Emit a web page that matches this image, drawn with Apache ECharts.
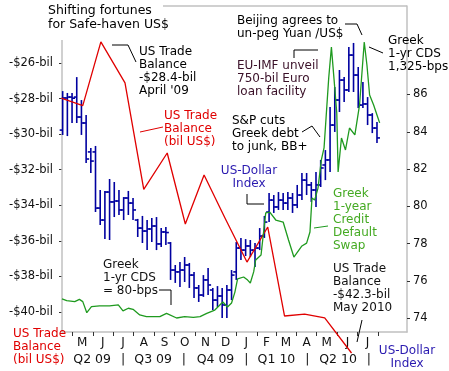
<!DOCTYPE html>
<html><head><meta charset="utf-8">
<script src="https://cdn.jsdelivr.net/npm/echarts@6/dist/echarts.min.js"></script>
<style>html,body{margin:0;padding:0;background:#fff}#c{width:449px;height:371px}</style>
</head><body><div id="c"></div>
<script>
// ---- data ----
const dxyDates = ['2009-04-17','2009-04-24','2009-05-01','2009-05-08','2009-05-15','2009-05-22','2009-05-29','2009-06-05','2009-06-12','2009-06-19','2009-06-26','2009-07-03','2009-07-10','2009-07-17','2009-07-24','2009-07-31','2009-08-07','2009-08-14','2009-08-21','2009-08-28','2009-09-04','2009-09-11','2009-09-18','2009-09-25','2009-10-02','2009-10-09','2009-10-16','2009-10-23','2009-10-30','2009-11-06','2009-11-13','2009-11-20','2009-11-27','2009-12-04','2009-12-11','2009-12-18','2009-12-25','2010-01-01','2010-01-08','2010-01-15','2010-01-22','2010-01-29','2010-02-05','2010-02-12','2010-02-19','2010-02-26','2010-03-05','2010-03-12','2010-03-19','2010-03-26','2010-04-02','2010-04-09','2010-04-16','2010-04-23','2010-04-30','2010-05-07','2010-05-14','2010-05-21','2010-05-28','2010-06-04','2010-06-11','2010-06-18','2010-06-25','2010-07-02','2010-07-09','2010-07-16','2010-07-23','2010-07-30'];
const dxyOpen = [84.09,85.81,85.86,85.86,84.79,84.47,82.92,82.92,79.91,79.27,80.77,80.24,80.29,79.81,80.45,80.18,79.27,78.84,78.68,78.79,78.95,77.99,78.63,78.04,76.59,76.49,76.59,76.86,76.32,75.63,75.25,76.06,75.52,74.98,75.20,74.72,75.52,76.49,77.77,77.66,77.88,77.66,77.77,78.41,79.70,80.34,79.97,80.34,80.18,80.45,80.08,80.61,81.41,81.15,80.88,81.15,82.22,82.49,84.36,85.70,86.77,86.24,88.11,87.04,85.43,85.49,84.90,84.20];
const dxyHigh = [86.18,86.08,86.08,86.93,85.70,84.90,83.13,83.24,80.88,80.83,81.47,81.31,80.88,80.50,80.83,80.45,79.33,79.49,79.27,79.38,79.43,78.84,78.90,78.09,76.86,77.02,77.29,76.97,76.49,75.79,76.32,76.70,75.63,75.73,75.63,75.79,76.59,78.09,78.31,78.25,78.20,78.04,78.84,79.49,80.72,80.61,80.77,80.72,80.77,80.72,81.15,81.79,81.79,81.31,81.84,82.49,83.02,85.33,86.40,87.31,86.93,88.54,88.76,87.47,86.67,85.86,85.00,84.52];
const dxyLow = [83.83,83.77,84.47,84.47,83.83,82.33,81.79,79.70,79.00,78.25,78.20,79.43,79.54,79.27,79.54,79.27,78.36,78.04,77.66,78.09,77.66,77.82,77.93,76.06,75.90,75.68,75.95,75.63,75.09,74.88,75.15,75.25,74.45,74.61,74.02,74.02,74.98,76.06,77.13,77.34,77.29,76.75,77.66,78.31,79.16,79.65,79.81,79.81,79.81,79.65,79.91,80.34,80.61,80.24,79.97,81.04,81.41,81.84,83.99,85.06,85.60,86.13,86.13,85.27,85.27,84.36,83.93,83.40];
const dxyClose = [85.81,85.86,85.80,84.79,84.47,82.54,82.43,79.91,79.27,80.77,80.24,80.29,79.81,80.45,80.18,79.81,78.84,78.68,78.79,78.95,77.99,78.63,78.60,76.59,76.49,76.59,76.86,76.32,75.63,75.25,76.06,75.79,74.98,75.20,74.72,75.52,76.32,77.77,77.66,77.88,77.66,77.77,78.41,79.16,80.34,79.97,80.34,80.18,80.45,80.08,80.61,81.41,81.15,80.88,81.15,82.06,82.49,84.36,85.70,86.77,86.24,88.11,87.04,85.43,85.49,84.90,84.20,83.67];

const tradeDates = ['2009-04-15','2009-05-17','2009-06-13','2009-07-19','2009-08-16','2009-09-20','2009-10-17','2009-11-14','2009-12-15','2010-01-17','2010-02-17','2010-03-14','2010-04-13','2010-05-13','2010-06-22'];
const tradeBalance = [-27.98,-28.4,-24.82,-27.12,-33.11,-31.06,-35.05,-32.3,-34.7,-37.19,-35.22,-40.22,-40.11,-40.33,-42.3];

const cdsDates = ['2009-04-16','2009-04-23','2009-05-05','2009-05-12','2009-05-17','2009-05-23','2009-05-30','2009-06-11','2009-06-26','2009-07-09','2009-07-16','2009-07-24','2009-07-31','2009-08-10','2009-08-20','2009-09-09','2009-09-19','2009-10-04','2009-10-16','2009-10-29','2009-11-08','2009-11-18','2009-11-30','2009-12-12','2009-12-19','2009-12-25','2009-12-30','2010-01-03','2010-01-12','2010-01-18','2010-01-22','2010-01-27','2010-01-30','2010-02-07','2010-02-14','2010-02-20','2010-03-01','2010-03-12','2010-03-20','2010-03-28','2010-04-09','2010-04-16','2010-04-21','2010-04-24','2010-04-28','2010-05-03','2010-05-08','2010-05-12','2010-05-15','2010-05-19','2010-05-23','2010-05-27','2010-05-31','2010-06-02','2010-06-07','2010-06-13','2010-06-19','2010-06-27','2010-07-04','2010-07-11','2010-07-15','2010-07-19','2010-07-25','2010-07-31','2010-08-03'];
const cdsBps = [166,158,154,164,154,104,131,135,135,139,112,124,119,94,86,86,101,80,86,83,86,101,116,152,130,148,197,256,265,251,238,288,342,364,554,558,522,513,432,355,405,418,468,621,612,666,793,847,982,1163,1302,1154,1005,739,892,838,937,906,1041,1325,1221,1086,1041,987,960];

const monthTickDates = ['2009-05-01','2009-06-01','2009-07-01','2009-08-01','2009-09-01','2009-10-01','2009-11-01','2009-12-01','2010-01-01','2010-02-01','2010-03-01','2010-04-01','2010-05-01','2010-06-01','2010-07-01','2010-08-01'];
const monthLabelDates = ['2009-05-16','2009-06-16','2009-07-16','2009-08-16','2009-09-16','2009-10-16','2009-11-16','2009-12-16','2010-01-16','2010-02-15','2010-03-16','2010-04-16','2010-05-16','2010-06-16','2010-07-16'];
const monthLabels = ['M','J','J','A','S','O','N','D','J','F','M','A','M','J','J'];
const quarterDates = ['2009-05-31','2009-07-16','2009-08-30','2009-10-15','2009-12-01','2010-01-16','2010-03-02','2010-04-17','2010-06-02','2010-07-18'];
const quarterLabels = ['Q2 09','|','Q3 09','|','Q4 09','|','Q1 10','|','Q2 10','|'];
const tradeTicks = [-40,-38,-36,-34,-32,-30,-28,-26];
const dxyTicks = [74,76,78,80,82,84,86];

// ---- build ----
const ms = s => Date.parse(s + 'T00:00:00Z');
const FONT = '"DejaVu Sans", Verdana, sans-serif';
const monthMap = {}; monthLabelDates.forEach((d,i)=>monthMap[ms(d)] = monthLabels[i]);
const qMap = {}; quarterDates.forEach((d,i)=>qMap[ms(d)] = quarterLabels[i]);

const ohlc = dxyDates.map((d,i)=>[ms(d), dxyOpen[i], dxyClose[i], dxyLow[i], dxyHigh[i]]);
const trade = tradeDates.map((d,i)=>[ms(d), tradeBalance[i]]);
const cds = cdsDates.map((d,i)=>[ms(d), cdsBps[i]]);

const xMin = Date.UTC(2009,3,16), xMax = Date.UTC(2010,8,12,19);
const BLUE = '#0000a0';

function txt(x, y, text, fill, size, align){
  return {type:'text', x:x, y:y, z:100, style:{text:text, fill:fill, font:(size||12)+'px '+FONT,
    lineHeight:13, align:align||'left', textAlign:align||'left', verticalAlign:'top', textVerticalAlign:'top'}};
}
function pl(points, color){
  return {type:'polyline', z:100, shape:{points:points}, style:{stroke:color||'#000', lineWidth:1, fill:null}};
}

const chart = echarts.init(document.getElementById('c'), null, {renderer:'canvas'});
chart.setOption({
  backgroundColor:'#fff',
  animation:false,
  grid:{left:62, right:42, top:6, bottom:39, containLabel:false},
  xAxis:[{
    type:'value', min:xMin, max:xMax, position:'bottom',
    axisLine:{show:true, lineStyle:{color:'#c0c0c0', width:1.5}},
    axisTick:{show:true, customValues:monthTickDates.map(ms), length:4, inside:false, lineStyle:{color:'#333'}},
    axisLabel:{customValues:monthLabelDates.map(ms), formatter:v=>monthMap[v]||'', fontFamily:FONT, fontSize:12, color:'#111', margin:5},
    splitLine:{show:false}
  },{
    type:'value', min:xMin, max:xMax, position:'bottom', offset:18,
    axisLine:{show:false}, axisTick:{show:false},
    axisLabel:{customValues:quarterDates.map(ms), formatter:v=>qMap[v]||'', fontFamily:FONT, fontSize:12.5, color:'#111', margin:3},
    splitLine:{show:false}
  }],
  yAxis:[{
    type:'value', position:'left', min:-41.12, max:-22.80,
    axisLine:{show:false},
    axisTick:{show:true, customValues:tradeTicks, length:3, lineStyle:{color:'#333'}},
    axisLabel:{customValues:tradeTicks, formatter:v=>'-$'+Math.abs(v)+'-bil', fontFamily:FONT, fontSize:11.5, color:'#111', margin:9},
    splitLine:{show:false}
  },{
    type:'value', position:'right', min:73.27, max:90.74,
    axisLine:{show:true, lineStyle:{color:'#c0c0c0', width:1.5}},
    axisTick:{show:true, customValues:dxyTicks, length:3, lineStyle:{color:'#333'}},
    axisLabel:{customValues:dxyTicks, fontFamily:FONT, fontSize:11.5, color:'#111', margin:6},
    splitLine:{show:false}
  },{
    type:'value', show:false, min:16.9, max:1487.3, splitLine:{show:false}
  }],
  series:[{
    type:'custom', xAxisIndex:0, yAxisIndex:1, z:2,
    data:ohlc, encode:{x:0, y:[1,2,3,4]},
    renderItem:function(params, api){
      const x = api.value(0);
      const o = api.coord([x, api.value(1)]);
      const c = api.coord([x, api.value(2)]);
      const l = api.coord([x, api.value(3)]);
      const h = api.coord([x, api.value(4)]);
      const st = {stroke:BLUE, lineWidth:1.6};
      return {type:'group', children:[
        {type:'line', shape:{x1:h[0], y1:h[1], x2:l[0], y2:l[1]}, style:st},
        {type:'line', shape:{x1:o[0]-3, y1:o[1], x2:o[0], y2:o[1]}, style:st},
        {type:'line', shape:{x1:c[0], y1:c[1], x2:c[0]+3, y2:c[1]}, style:st}
      ]};
    }
  },{
    type:'line', xAxisIndex:0, yAxisIndex:0, z:3, data:trade, showSymbol:false, clip:false,
    lineStyle:{color:'#e00000', width:1.3}
  },{
    type:'line', xAxisIndex:0, yAxisIndex:2, z:4, data:cds, showSymbol:false,
    lineStyle:{color:'#1f9a1f', width:1.3}
  }],
  graphic:[
    {type:'line', z:1, shape:{x1:163, y1:6, x2:407, y2:6}, style:{stroke:'#c0c0c0', lineWidth:1.5}},
    {type:'line', z:1, shape:{x1:62, y1:40, x2:62, y2:332}, style:{stroke:'#c0c0c0', lineWidth:1.5}},
    {type:'text', x:48, y:4, z:100, style:{text:'Shifting fortunes\nfor Safe-haven US$', fill:'#000', font:'12.5px '+FONT, lineHeight:14, align:'left', verticalAlign:'top', textAlign:'left', textVerticalAlign:'top'}},
    txt(139, 45, "US Trade\nBalance\n-$28.4-bil\nApril '09", '#000'),
    pl([[112,45],[128,45],[136,62]]),
    txt(164, 109, 'US Trade\nBalance\n(bil US$)', '#e00000'),
    pl([[140,132],[163,127]], '#e00000'),
    txt(237, 14, 'Beijing agrees to\nun-peg Yuan /US$', '#000'),
    pl([[345,24],[357,24],[362,35]]),
    txt(388, 34, 'Greek\n1-yr CDS\n1,325-bps', '#000'),
    pl([[369,47],[383,53]]),
    txt(237, 59, 'EU-IMF unveil\n750-bil Euro\nloan facility', '#3a1028'),
    pl([[294,58],[294,50],[318,50]]),
    txt(232, 114, 'S&P cuts\nGreek debt\nto junk, BB+', '#000'),
    pl([[302,132],[312,126],[320,137]]),
    txt(249, 164, 'US-Dollar\nIndex', '#2a1ab0', 12, 'center'),
    pl([[247,194],[247,204],[264,204]]),
    txt(333, 187, 'Greek\n1-year\nCredit\nDefault\nSwap', '#44aa22'),
    pl([[314,228],[328,226]], '#1f9a1f'),
    txt(333, 262, 'US Trade\nBalance\n-$42.3-bil\nMay 2010', '#111'),
    pl([[362,320],[357,342]]),
    txt(103, 258, 'Greek\n1-yr CDS\n= 80-bps', '#111'),
    pl([[159,290],[171,290],[171,305]]),
    txt(13, 327, 'US Trade\nBalance\n(bil US$)', '#e00000'),
    txt(407, 344, 'US-Dollar\nIndex', '#2a1ab0', 12, 'center')
  ]
});
</script></body></html>
